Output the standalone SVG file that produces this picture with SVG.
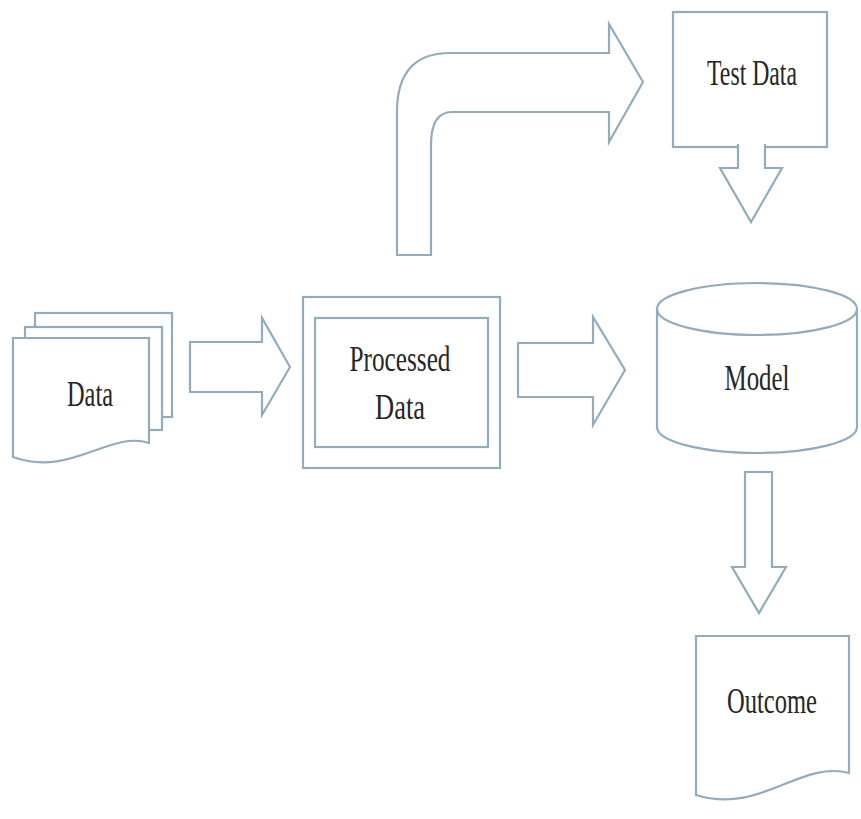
<svg xmlns="http://www.w3.org/2000/svg" width="861" height="819" viewBox="0 0 861 819">
<style>
.s{fill:#fff;stroke:#93acbd;stroke-width:2.2;stroke-linejoin:miter}
.t{font-family:"Liberation Serif","DejaVu Serif",serif;font-size:36px;fill:#262626;text-anchor:middle}
</style>
<rect width="861" height="819" fill="#fff"/>
<g id="connectors">
<path class="s" d="M190,342 H262 V318 L290,367 L262,415 V392 H190 Z"/>
<path class="s" d="M518,343 H593 V317 L625,370 L593,425 V397 H518 Z"/>
<path class="s" d="M397,255 V112 Q397,53 450,53 H609 V24 L643,82 L609,142 V112 H452 Q431,112 431,145 V255 Z"/>
</g>
<g id="data">
<rect class="s" x="35" y="313" width="137" height="104"/>
<rect class="s" x="25" y="327" width="137" height="103"/>
<path class="s" d="M13,338 H149 V443 C110,430 70,478 13,457 Z"/>
<text class="t" x="90" y="406" textLength="46" lengthAdjust="spacingAndGlyphs">Data</text>
</g>
<g id="processed">
<rect class="s" x="303" y="297" width="197" height="171"/>
<rect class="s" x="315" y="318" width="173" height="129"/>
<text class="t" x="400" y="371" textLength="101" lengthAdjust="spacingAndGlyphs">Processed</text>
<text class="t" x="400" y="419" textLength="50" lengthAdjust="spacingAndGlyphs">Data</text>
</g>
<g id="testdata">
<rect class="s" x="673" y="12" width="154" height="135"/>
<text class="t" x="752" y="85" textLength="90" lengthAdjust="spacingAndGlyphs">Test Data</text>
</g>
<g id="testarrow">
<path class="s" d="M738,144 V168 H720 L751,222 L782,168 H765 V144"/>
</g>
<g id="model">
<path class="s" d="M657,309 V427 A100,26 0 0 0 857,427 V309"/>
<ellipse class="s" cx="757" cy="309" rx="100" ry="26"/>
<text class="t" x="757" y="390" textLength="65" lengthAdjust="spacingAndGlyphs">Model</text>
</g>
<g id="outarrow">
<path class="s" d="M745,472 H772 V567 H786 L759,613 L732,567 H745 Z"/>
</g>
<g id="outcome">
<path class="s" d="M696,636 H849 V773 C800,760 760,815 696,795 Z"/>
<text class="t" x="772" y="713" textLength="90" lengthAdjust="spacingAndGlyphs">Outcome</text>
</g>
</svg>
